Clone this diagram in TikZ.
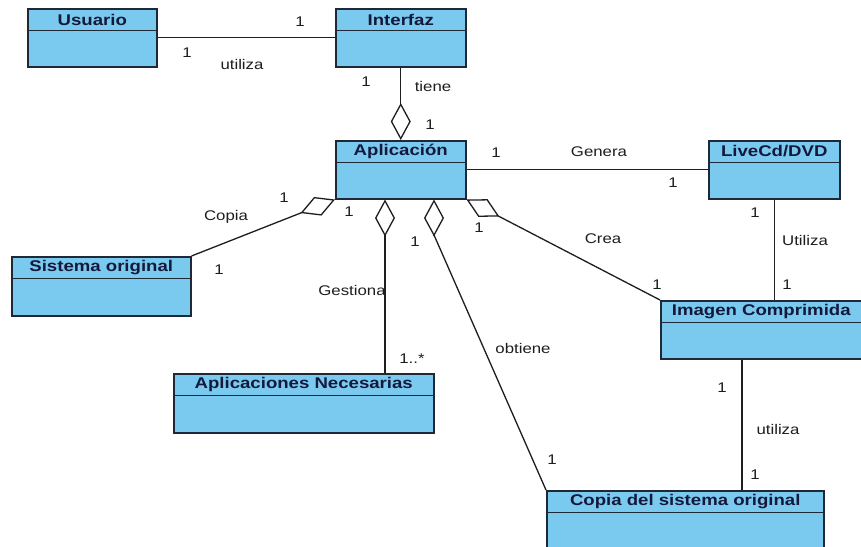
\documentclass[tikz,border=0pt]{standalone}
\usepackage{fontspec}
\setmainfont{Liberation Sans}
\newfontfamily\lblfont[FakeStretch=1.2]{Liberation Sans}
\usetikzlibrary{arrows.meta}
\definecolor{clsfill}{RGB}{122,202,240}
\definecolor{clsedge}{RGB}{30,40,55}
\definecolor{clstext}{RGB}{20,25,60}
\definecolor{lbltext}{RGB}{30,30,30}
\tikzset{
  clsbox/.style={draw=clsedge, fill=clsfill, line width=1.5pt, inner sep=0pt, rectangle},
  clsline/.style={draw=clsedge, line width=1.3pt},
  clstitle/.style={font=\lblfont\bfseries\fontsize{15.5}{15.5}\selectfont, text=clstext, inner sep=0pt},
  lbl/.style={font=\lblfont\fontsize{14}{14}\selectfont, text=lbltext, inner sep=0pt},
  conn/.style={draw=lbltext, line width=1.3pt},
  agg/.style={conn, -{Diamond[open, length=37pt, width=20pt]}}
}
\newcommand\UMLbox[6]{%
  \node[clsbox, minimum width=#4pt, minimum height=#5pt, anchor=north west] (#1) at (#2,#3) {};
  \draw[clsline] ([yshift=-22.5pt]#1.north west) -- ([yshift=-22.5pt]#1.north east);
  \node[clstitle] (#1-t) at ([yshift=-11.5pt]#1.north) {#6};
}
\begin{document}
\begin{tikzpicture}[x=1pt,y=-1pt]
\useasboundingbox[fill=white] (0,0) rectangle (861,546);
% classes
\UMLbox{usu}{27}{8}{129}{58}{Usuario}
\UMLbox{int}{335}{8}{130}{58}{Interfaz}
\UMLbox{app}{335}{140}{130}{58}{Aplicación}
\UMLbox{live}{708}{140}{131}{58}{LiveCd/DVD}
\UMLbox{sis}{11}{256}{179}{59}{Sistema original}
\UMLbox{nec}{173}{373}{260}{59}{Aplicaciones Necesarias}
\UMLbox{img}{660}{300}{201}{58}{Imagen Comprimida}
\UMLbox{cop}{546}{490}{277}{62}{Copia del sistema original}
% helper coordinates
\coordinate (gx) at (385,300);
\coordinate (obt) at (434,235);
\coordinate (ux) at (742,420);
% connectors
\draw[conn] (usu.east) -- (int.west);
\draw[agg] (int.south) -- (app.north);
\draw[conn] (app.east) -- (live.west);
\draw[agg] (sis.north east) -- (app.south west);
\draw[agg] (gx |- nec.north) -- (gx |- app.south);
\draw[conn] (cop.north west) -- (obt);
\draw[agg] (obt) -- (obt |- app.south);
\draw[agg] (img.north west) -- (app.south east);
\draw[conn] (live.south) -- (live.south |- img.north);
\draw[conn] (ux |- img.south) -- (ux |- cop.north);
% labels
\node[lbl] (l1) at (300,22) {1};
\node[lbl] (l2) at (187,53) {1};
\node[lbl] (l3) at (242,64) {utiliza};
\node[lbl] (l4) at (366,82) {1};
\node[lbl] (l5) at (433,86) {tiene};
\node[lbl] (l6) at (430,125) {1};
\node[lbl] (l7) at (496,153) {1};
\node[lbl] (l8) at (599,152) {Genera};
\node[lbl] (l9) at (673,183) {1};
\node[lbl] (l10) at (284,198) {1};
\node[lbl] (l11) at (226,217) {Copia};
\node[lbl] (l12) at (349,212) {1};
\node[lbl] (l13) at (219,270) {1};
\node[lbl] (l14) at (352,290) {Gestiona};
\node[lbl] (l15) at (415,242) {1};
\node[lbl] (l16) at (412,359) {1..*};
\node[lbl] (l17) at (479,228) {1};
\node[lbl] (l18) at (603,239) {Crea};
\node[lbl] (l19) at (657,285) {1};
\node[lbl] (l20) at (755,213) {1};
\node[lbl] (l21) at (805,240) {Utiliza};
\node[lbl] (l22) at (787,285) {1};
\node[lbl] (l23) at (722,388) {1};
\node[lbl] (l24) at (778,429) {utiliza};
\node[lbl] (l25) at (755,475) {1};
\node[lbl] (l26) at (523,348) {obtiene};
\node[lbl] (l27) at (552,460) {1};
\end{tikzpicture}
\end{document}
